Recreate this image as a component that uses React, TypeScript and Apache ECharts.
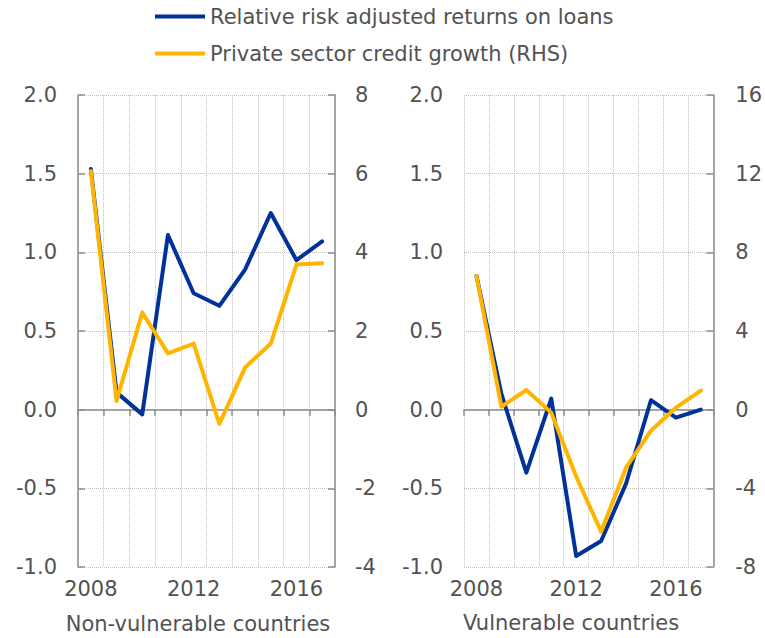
import React, { useEffect, useRef } from "react";
import * as echarts from "echarts";

const years = ["2008", "2009", "2010", "2011", "2012", "2013", "2014", "2015", "2016", "2017"];

const nvReturns = [1.53, 0.11, -0.03, 1.11, 0.74, 0.66, 0.89, 1.25, 0.95, 1.07];
const nvCredit = [6.07, 0.22, 2.47, 1.43, 1.68, -0.36, 1.07, 1.68, 3.69, 3.72];
const vReturns = [0.85, 0.1, -0.4, 0.07, -0.93, -0.835, -0.47, 0.06, -0.05, 0.0];
const vCredit = [6.8, 0.15, 1.0, -0.15, -3.4, -6.2, -2.95, -1.07, 0.1, 0.97];

const seriesNames = ["Relative risk adjusted returns on loans", "Private sector credit growth (RHS)"];
const panelTitles = ["Non-vulnerable countries", "Vulnerable countries"];

const BLUE = "#003299";
const YELLOW = "#ffb400";
const TEXT = "#525252";
const AXIS = "#8c8c8c";
const GRIDC = "#c0c0c0";
const FONT = "DejaVu Sans";
const FS = 21;

export default function App() {
  const ref = useRef<HTMLDivElement>(null);
  useEffect(() => {
    if (!ref.current) return;
    const chart = echarts.init(ref.current, null, { renderer: "svg" });
    const label = { color: TEXT, fontSize: FS, fontFamily: FONT };
    const xAxisBase = (gridIndex: number) => ({
      type: "category",
      gridIndex,
      data: years,
      boundaryGap: true,
      axisLine: { show: true, lineStyle: { color: AXIS, width: 1.5 } },
      axisTick: { show: true, interval: 0, inside: false, length: 6, lineStyle: { color: AXIS, width: 1.5 } },
      axisLabel: { ...label, interval: 3, margin: 11 },
      splitLine: { show: true, interval: 0, lineStyle: { color: GRIDC, type: "dotted", width: 1 } },
    });
    const leftY = (gridIndex: number, showLine: boolean) => ({
      type: "value",
      gridIndex,
      position: "left",
      min: -1,
      max: 2,
      interval: 0.5,
      axisLine: { show: showLine, lineStyle: { color: AXIS, width: 1.5 } },
      axisTick: { show: showLine, inside: true, length: 7, lineStyle: { color: AXIS, width: 1.5 } },
      axisLabel: { ...label, margin: 21, formatter: (v: number) => v.toFixed(1) },
      splitLine: { show: true, lineStyle: { color: GRIDC, type: "dotted", width: 1 } },
    });
    const rightY = (gridIndex: number, min: number, max: number, interval: number, margin: number) => ({
      type: "value",
      gridIndex,
      position: "right",
      min,
      max,
      interval,
      axisLine: { show: true, lineStyle: { color: AXIS, width: 1.5 } },
      axisTick: { show: true, inside: true, length: 7, lineStyle: { color: AXIS, width: 1.5 } },
      axisLabel: { ...label, margin },
      splitLine: { show: false },
    });
    const line = (name: string, data: number[], xAxisIndex: number, yAxisIndex: number, color: string) => ({
      type: "line",
      name,
      data,
      xAxisIndex,
      yAxisIndex,
      symbol: "none",
      color,
      lineStyle: { color, width: 4, cap: "round", join: "round" },
    });
    chart.setOption({
      animation: false,
      backgroundColor: "#ffffff",
      textStyle: { fontFamily: FONT },
      legend: {
        data: seriesNames,
        orient: "vertical",
        left: 155,
        top: 6,
        padding: 0,
        itemWidth: 50,
        itemHeight: 4,
        itemGap: 16,
        icon: "rect",
        textStyle: { color: TEXT, fontSize: FS, fontFamily: FONT },
      },
      grid: [
        { left: 78, top: 95, width: 257, height: 472 },
        { left: 464, top: 95, width: 251, height: 472 },
      ],
      xAxis: [xAxisBase(0), xAxisBase(1)],
      yAxis: [leftY(0, true), rightY(0, -4, 8, 2, 20), leftY(1, false), rightY(1, -8, 16, 4, 22)],
      series: [
        line(seriesNames[0], nvReturns, 0, 0, BLUE),
        line(seriesNames[1], nvCredit, 0, 1, YELLOW),
        line(seriesNames[0], vReturns, 1, 2, BLUE),
        line(seriesNames[1], vCredit, 1, 3, YELLOW),
      ],
      graphic: [
        {
          type: "text",
          x: 198,
          y: 613,
          style: { text: panelTitles[0], fill: TEXT, font: `${FS}px ${FONT}`, textAlign: "center", textVerticalAlign: "top" },
        },
        {
          type: "text",
          x: 571,
          y: 612,
          style: { text: panelTitles[1], fill: TEXT, font: `${FS}px ${FONT}`, textAlign: "center", textVerticalAlign: "top" },
        },
      ],
    });
    return () => chart.dispose();
  }, []);
  return <div ref={ref} style={{ position: "fixed", left: 0, top: 0, width: 765, height: 638 }} />;
}
